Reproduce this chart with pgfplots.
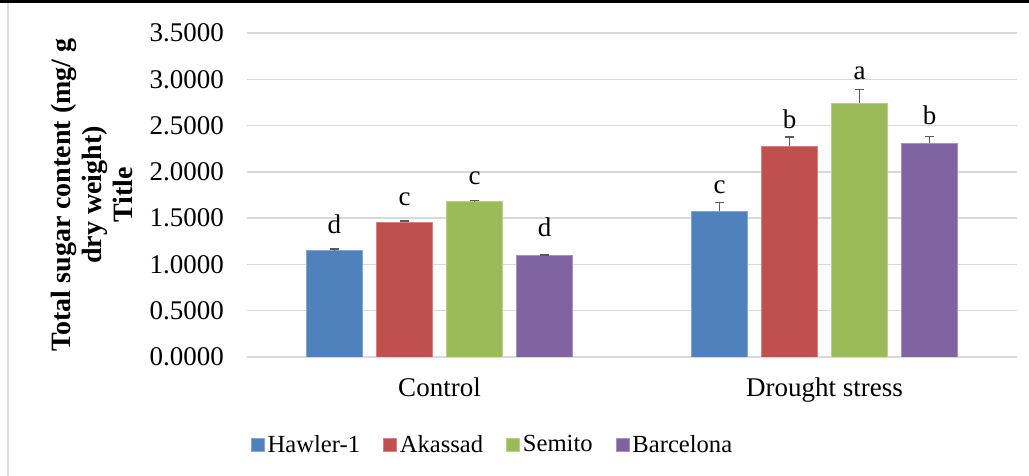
\documentclass[border=0pt]{standalone}
\usepackage{fontspec}
\setmainfont{Liberation Serif}
\usepackage{pgfplots}
\pgfplotsset{compat=1.18}
\usepackage{pgfplotstable}
\definecolor{cH}{HTML}{4F81BD}
\definecolor{cA}{HTML}{C0504D}
\definecolor{cS}{HTML}{9BBB59}
\definecolor{cB}{HTML}{8064A2}
\definecolor{gridc}{HTML}{D9D9D9}
\definecolor{errc}{HTML}{5A5A5A}

\pgfplotstableread{
x y err lab off
0 1.149 0.02 d 8.7
1 1.577 0.09 c 8.8
}\tH
\pgfplotstableread{
x y err lab off
0 1.458 0.01 c 8.5
1 2.279 0.10 b 8.8
}\tA
\pgfplotstableread{
x y err lab off
0 1.678 0.01 c 8.5
1 2.740 0.15 a 11.7
}\tS
\pgfplotstableread{
x y err lab off
0 1.094 0.01 d 9.5
1 2.310 0.07 b 9.2
}\tB

\begin{document}
\begin{tikzpicture}
\useasboundingbox (0,0) rectangle (514.5pt,238pt);
\draw[black, line width=1.2pt] (0,237.2pt) -- (514.5pt,237.2pt);
\draw[gridc, line width=0.8pt] (4pt,0) -- (4pt,236.5pt);
\begin{axis}[
  at={(123.5pt,59.5pt)}, anchor=south west,
  scale only axis, width=385pt, height=162pt,
  ybar=7pt, bar width=28pt,
  xmin=-0.5, xmax=1.5, ymin=0, ymax=3.5,
  ytick={0,0.5,1,1.5,2,2.5,3,3.5},
  xtick={0,1}, xticklabels={Control, Drought stress},
  axis line style={draw=none},
  major tick length=0pt,
  ymajorgrids, grid style={color=gridc, line width=0.7pt},
  tick label style={font=\fontsize{13.5}{16}\selectfont},
  yticklabel style={/pgf/number format/.cd, fixed, fixed zerofill, precision=4, assume math mode=true, /tikz/.cd, xshift=-8pt},
  xticklabel style={anchor=base, yshift=-20pt},
  every axis y label/.style={at={(axis description cs:-0.2013,0.5)}, rotate=90, anchor=center, align=center, font=\bfseries\fontsize{14}{15.5}\selectfont},
  ylabel={Total sugar content (mg/ g\\dry weight)\\Title},
  nodes near coords,
  point meta=explicit symbolic,
  visualization depends on={\thisrow{off}\as\myoff},
  every node near coord/.append style={anchor=base, yshift=\myoff pt, font=\fontsize{13.5}{16}\selectfont, color=black},
  legend style={at={(axis description cs:0.3195,-0.2716)}, anchor=center, legend columns=-1, draw=none, fill=none, font=\fontsize{12.3}{14}\selectfont, /tikz/every even column/.append style={column sep=10pt}, nodes={inner sep=1.5pt}},
  legend image code/.code={\fill[#1] (0pt,-3.25pt) rectangle (6.5pt,3.25pt);},
  error bars/y dir=plus, error bars/y explicit,
  error bars/error bar style={color=errc, line width=0.75pt},
  error bars/error mark options={rotate=90, color=errc, mark size=2.2pt, line width=0.75pt},
]
\addplot[fill=cH, draw=cH!70!white, line width=0.4pt] table[x=x, y=y, y error=err, meta=lab]{\tH};
\addplot[fill=cA, draw=cA!70!white, line width=0.4pt] table[x=x, y=y, y error=err, meta=lab]{\tA};
\addplot[fill=cS, draw=cS!70!white, line width=0.4pt] table[x=x, y=y, y error=err, meta=lab]{\tS};
\addplot[fill=cB, draw=cB!70!white, line width=0.4pt] table[x=x, y=y, y error=err, meta=lab]{\tB};
\legend{Hawler-1, Akassad, Semito, Barcelona}
\end{axis}
\end{tikzpicture}
\end{document}
